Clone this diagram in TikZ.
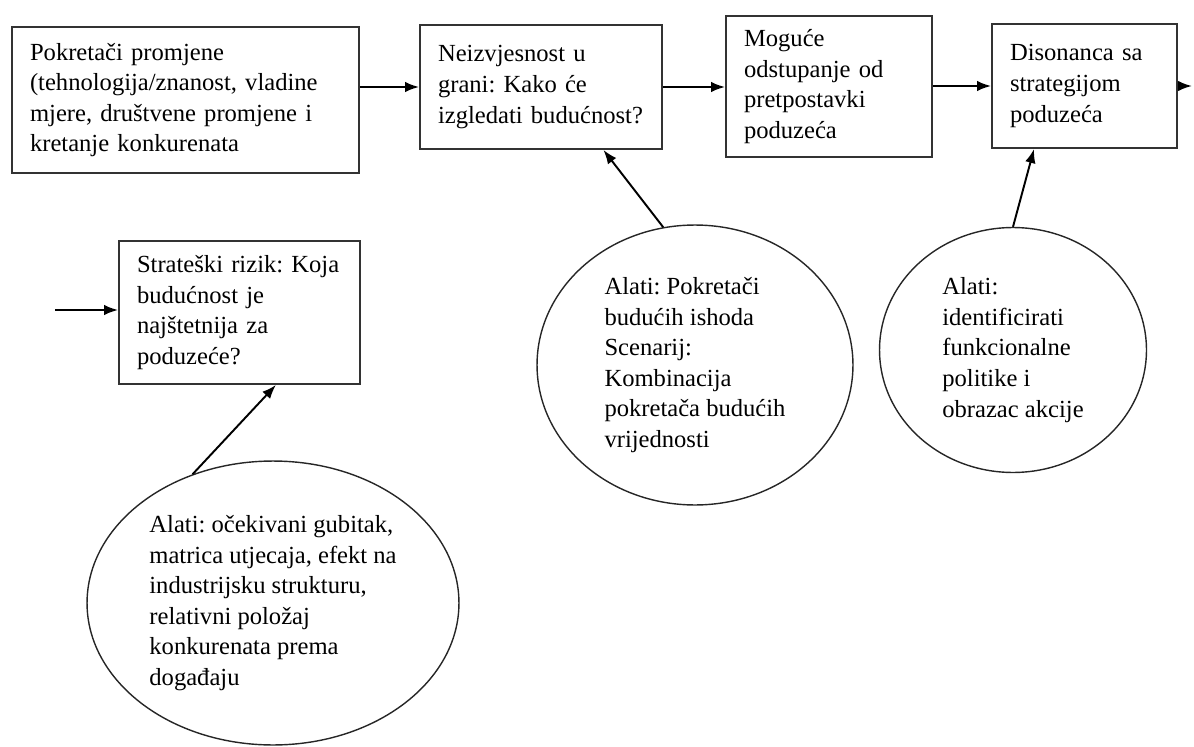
\documentclass[tikz,border=0pt]{standalone}
\usepackage{fontspec}
\setmainfont{Liberation Serif}
\usepackage{tikz}
\usetikzlibrary{calc,arrows.meta,shapes.geometric}
\frenchspacing

\tikzset{
	box/.style={draw=black!80, line width=1.1pt, align=left, inner xsep=0.36cm, font=\fontsize{14}{17.4}\selectfont},
	tool/.style={draw=black!85, line width=0.8pt, ellipse, inner sep=0pt, align=left, font=\fontsize{14}{17.4}\selectfont},
	arr/.style={line width=1.1pt, -{Latex[length=8pt,width=6pt]}}
}

\begin{document}
\begin{tikzpicture}[x=0.02cm, y=-0.02cm]
		%%%%% START %%%%%
		\useasboundingbox (0, 0) rectangle (1194, 747);
		
		% the chain of boxes
		\node[box, minimum width=6.94cm, minimum height=2.92cm, text width=6.22cm] (drivers) at (185.5, 100) {Pokretači promjene\\(tehnologija/znanost, vladine\\mjere, društvene promjene i\\kretanje konkurenata};
		\node[box, minimum width=4.84cm, minimum height=2.48cm, text width=4.12cm] (uncert) at (541, 87) {Neizvjesnost u\\grani: Kako će\\izgledati budućnost?};
		\node[box, minimum width=4.12cm, minimum height=2.82cm, text width=3.40cm] (deviat) at (829, 86.5) {Moguće\\odstupanje od\\pretpostavki\\poduzeća};
		\node[box, minimum width=3.70cm, minimum height=2.48cm, text width=2.98cm] (dissonance) at (1084.5, 86) {Disonanca sa\\strategijom\\poduzeća};
		\node[box, minimum width=4.82cm, minimum height=2.86cm, text width=4.10cm] (risk) at (239.5, 312.5) {Strateški rizik: Koja\\budućnost je\\najštetnija za\\poduzeće?};
		
		% the tools
		\node[tool, minimum width=6.32cm, minimum height=5.6cm] (toolsA) at (695, 365) {Alati: Pokretači\\budućih ishoda\\Scenarij:\\Kombinacija\\pokretača budućih\\vrijednosti};
		\node[tool, minimum width=5.34cm, minimum height=4.9cm] (toolsB) at (1013, 350) {Alati:\\identificirati\\funkcionalne\\politike i\\obrazac akcije};
		\node[tool, minimum width=7.44cm, minimum height=5.68cm] (toolsC) at (273, 603) {Alati: očekivani gubitak,\\matrica utjecaja, efekt na\\industrijsku strukturu,\\relativni položaj\\konkurenata prema\\događaju};
		
		\coordinate (inrisk) at (55, 310);
		\coordinate (outright) at (1192, 86);
		
		% arrows
		\draw[arr] (drivers.east |- uncert.west) -- (uncert.west);
		\draw[arr] (uncert.east) -- (deviat.west |- uncert.east);
		\draw[arr] (deviat.east |- dissonance.west) -- (dissonance.west);
		\draw[arr] (dissonance.east) -- (outright);
		\draw[arr] (inrisk) -- (risk.west |- inrisk);
		
		\draw[arr] (toolsA.103) -- ($(uncert.south west)!0.756!(uncert.south east)$);
		\draw[arr] (toolsB.north) -- ($(dissonance.south west)!0.23!(dissonance.south east)$);
		\draw[arr] (toolsC.122) -- ($(risk.south west)!0.65!(risk.south east)$);
		
		%%%%% END %%%%%
	\end{tikzpicture}
\end{document}
